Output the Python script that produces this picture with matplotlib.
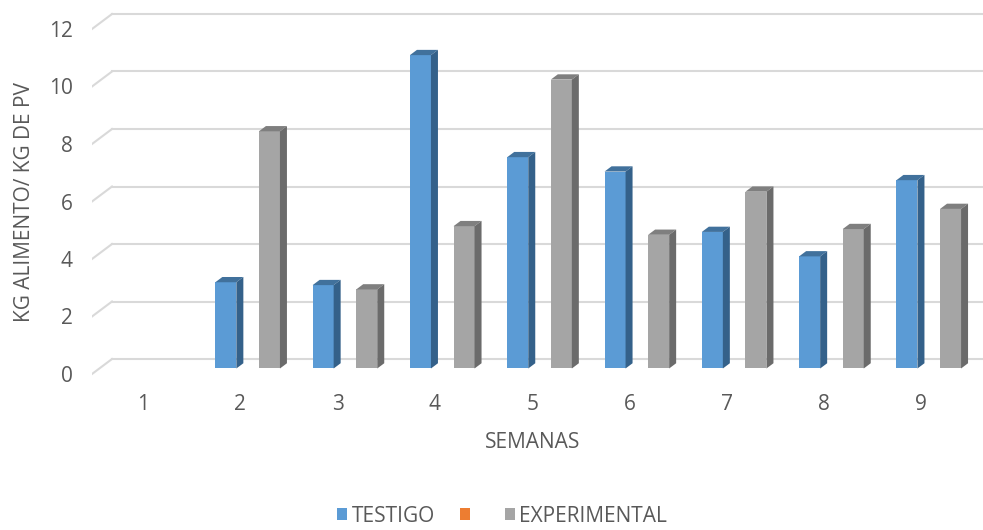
import numpy as np
import matplotlib.pyplot as plt
from matplotlib.patches import Polygon, Patch

plt.rcParams['font.family'] = ['Open Sans', 'DejaVu Sans']

semanas = [1, 2, 3, 4, 5, 6, 7, 8, 9]
testigo = [np.nan, 3.0, 2.9, 10.9, 7.35, 6.85, 4.75, 3.9, 6.55]
naranja = [np.nan] * 9          # serie vacia en el original
experimental = [np.nan, 8.25, 2.75, 4.95, 10.05, 4.65, 6.15, 4.85, 5.55]
yticks = [0, 2, 4, 6, 8, 10, 12]

W, H = 983, 530
px_x, px_y = 97.3, 28.75        # pixeles por semana / por unidad
x0_px, y0_px = 143, 374         # semana 1 y valor 0 en el plano frontal
DX, DY = 20 / px_x, 15 / px_y   # profundidad del "3D"

xmin = 1 - (x0_px - 92) / px_x
xmax = 1 + (W - x0_px) / px_x
ymin = -(384 - y0_px) / px_y
ymax = (y0_px - 8) / px_y

fs = 15

fig = plt.figure(figsize=(W / 100, H / 100), dpi=100)
ax = fig.add_axes([92 / W, (H - 384) / H, (W - 92) / W, (384 - 8) / H])
ax.set_xlim(xmin, xmax)
ax.set_ylim(ymin, ymax)
for s in ax.spines.values():
    s.set_visible(False)

grid_c = '#d9d9d9'
for v in yticks:
    ax.plot([xmin + DX, xmax], [v + DY, v + DY], color=grid_c, lw=1.5, zorder=1)
    ax.plot([xmin, xmin + DX], [v, v + DY], color=grid_c, lw=1.5, zorder=1)

bw = 0.216
slot = 0.224
d0, dd = 0.367, 0.35   # posicion y grosor de las barras en profundidad

series = [
    (testigo, -slot, '#5b9bd5', '#41719c', '#34618a'),
    (naranja, 0.0, '#ed7d31', '#c55a11', '#ae5a21'),
    (experimental, slot, '#a5a5a5', '#7f7f7f', '#6b6b6b'),
]

for vals, off, c_front, c_top, c_side in series:
    for x, h in zip(semanas, vals):
        if np.isnan(h):
            continue
        xl = x + off - bw / 2 + d0 * DX
        xr = xl + bw
        b = d0 * DY
        t = b + h
        ax.bar(xl, h, width=bw, bottom=b, align='edge', color=c_front,
               edgecolor='none', zorder=3)
        ax.add_patch(Polygon([(xl, t), (xr, t), (xr + dd * DX, t + dd * DY),
                              (xl + dd * DX, t + dd * DY)], closed=True,
                             facecolor=c_top, edgecolor='none', zorder=3))
        ax.add_patch(Polygon([(xr, b), (xr + dd * DX, b + dd * DY),
                              (xr + dd * DX, t + dd * DY), (xr, t)], closed=True,
                             facecolor=c_side, edgecolor='none', zorder=3))

txt_c = '#595959'
ax.set_xticks(semanas)
ax.set_xticklabels([str(s) for s in semanas])
ax.set_yticks(yticks)
ax.set_yticklabels([str(v) for v in yticks])
ax.tick_params(axis='x', length=0, pad=7.5, labelsize=fs, labelcolor=txt_c)
ax.tick_params(axis='y', length=0, pad=14, labelsize=fs, labelcolor=txt_c)

fig.text(533 / W, 1 - 442 / H, 'SEMANAS', ha='center', va='center',
         fontsize=fs, color=txt_c)
fig.text(25 / W, 1 - 202 / H, 'KG ALIMENTO/ KG DE PV', ha='center', va='center',
         rotation=90, fontsize=fs, color=txt_c)

handles = [Patch(facecolor='#5b9bd5'), Patch(facecolor='#ed7d31'),
           Patch(facecolor='#a5a5a5')]
fig.legend(handles, ['TESTIGO', ' ', 'EXPERIMENTAL'], loc='center',
           bbox_to_anchor=(502 / W, 1 - 516 / H), ncol=3, frameon=False,
           fontsize=fs, labelcolor=txt_c, handlelength=0.5, handleheight=0.5,
           handletextpad=0.2, columnspacing=1.2, borderpad=0)

fig.savefig('out.png', dpi=100)
